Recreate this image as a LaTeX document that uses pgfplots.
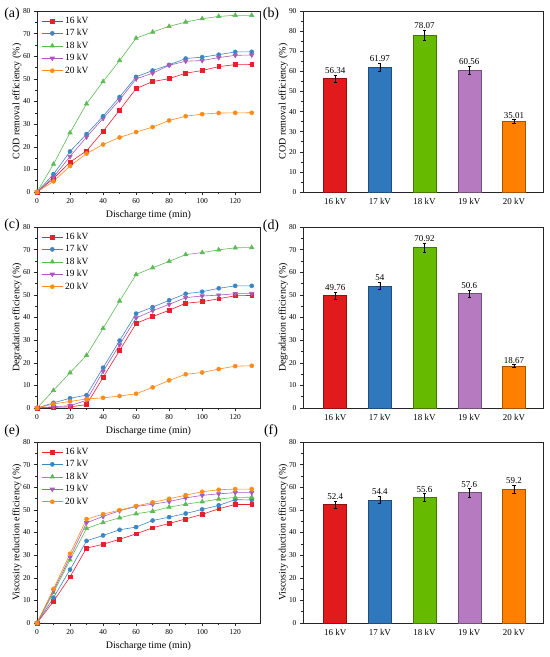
\documentclass[border=0pt]{standalone}
\usepackage{fontspec}
\setmainfont{Liberation Serif}
\usepackage{pgfplots}
\pgfplotsset{compat=1.18}
\usepackage{pgfplotstable}

\definecolor{lR}{HTML}{E8202E}
\definecolor{lB}{HTML}{3C86C4}
\definecolor{lG}{HTML}{5DBB55}
\definecolor{lP}{HTML}{A65CB8}
\definecolor{lO}{HTML}{FF8C1A}
\definecolor{bR}{HTML}{E31A1C}
\definecolor{bB}{HTML}{2F78BD}
\definecolor{bG}{HTML}{66BB00}
\definecolor{bP}{HTML}{B57ABF}
\definecolor{bO}{HTML}{FF7F00}

\pgfplotstableread{
t s16 s17 s18 s19 s20
0 0 0 0 0 0
10 5.9 7.9 12.3 6.6 4.7
20 13.2 17.9 26.2 15.7 11.5
30 18.2 25.6 39.0 24.3 17.0
40 26.8 33.5 48.8 32.5 21.0
50 36.2 42.0 58.1 40.7 24.1
60 45.7 50.9 68.0 50.0 26.5
70 48.8 53.7 70.7 52.5 28.7
80 50.1 56.2 73.2 56.0 31.6
90 52.5 59.0 75.1 57.8 33.5
100 53.7 59.6 76.6 58.1 34.4
110 55.4 60.7 77.6 59.4 34.9
120 56.3 61.9 78.1 60.4 35.0
130 56.34 61.97 78.07 60.56 35.01
}\codtab

\pgfplotstableread{
t s16 s17 s18 s19 s20
0 0 0 0 0 0
10 0.3 2.3 7.8 0.6 1.8
20 0.5 4.3 15.6 1.0 2.9
30 1.5 5.7 23.3 3.4 4.0
40 13.5 17.8 35.2 16.2 4.5
50 25.4 29.8 47.3 27.9 5.3
60 37.4 41.7 59.0 39.8 6.3
70 40.4 44.6 62.0 43.0 9.1
80 43.2 47.6 64.8 45.8 12.2
90 46.3 50.5 67.8 48.8 14.9
100 47.0 51.4 68.7 49.5 15.7
110 48.3 52.9 69.9 49.9 17.2
120 49.6 54.0 70.8 50.5 18.5
130 49.76 54.0 70.92 50.6 18.67
}\degtab

\pgfplotstableread{
t s16 s17 s18 s19 s20
0 0 0 0 0 0
10 9.6 11.2 13.4 14.3 15.1
20 20.4 23.6 27.9 29.1 30.6
30 33.1 36.3 41.8 44.3 45.9
40 34.8 38.7 44.4 47.1 48.1
50 37.0 41.2 46.5 49.6 49.9
60 39.4 42.4 48.3 51.5 51.7
70 42.1 45.3 49.4 52.5 53.3
80 44.0 46.8 51.2 53.7 54.9
90 46.0 48.4 52.5 55.3 56.5
100 48.0 50.2 53.6 56.4 58.0
110 50.5 52.0 54.8 57.1 58.9
120 52.4 54.5 55.5 57.6 59.2
130 52.4 54.4 55.6 57.6 59.2
}\vistab

\pgfplotsset{
  base/.style={
    scale only axis, anchor=south west,
    axis line style={line width=0.6bp, black!85},
    every tick/.style={black!85, line width=0.5bp},
    major tick length=3bp, minor tick length=1.6bp,
    tick align=outside, xtick pos=left, ytick pos=left,
    /pgf/number format/assume math mode=true,
    yticklabel style={font=\fontsize{7.5}{8}\selectfont},
    xticklabel style={font=\fontsize{7.5}{8}\selectfont},
    label style={font=\fontsize{9.5}{10}\selectfont},
    ymin=0, ymax=80, ytick distance=10, minor y tick num=1,
    height=181bp,
  },
  lineax/.style={base, width=223bp,
    xmin=0, xmax=135, xtick={0,20,...,120}, minor x tick num=1,
    xlabel={Discharge time (min)},
    every axis x label/.style={at={(axis description cs:0.5,-0.125)}, anchor=center},
    every axis y label/.style={at={(axis description cs:-0.09,0.5)}, rotate=90, anchor=center},
    legend style={at={(axis description cs:0.015,0.985)}, anchor=north west, draw=none, fill=none,
      font=\fontsize{9.5}{10}\selectfont, row sep=0.4bp, inner sep=1bp},
    legend cell align=left,
    legend image code/.code={\draw[mark repeat=2,mark phase=2] plot coordinates {(0bp,0bp)(10.5bp,0bp)(21bp,0bp)};},
  },
  barax/.style={base, width=240bp,
    ybar, bar width=23bp, bar shift=0pt,
    xmin=0.28, xmax=5.65, xtick={1,2,3,4,5},
    xticklabels={16 kV,17 kV,18 kV,19 kV,20 kV},
    xticklabel style={font=\fontsize{9}{10}\selectfont},
    x tick style={draw=none},
    every axis y label/.style={at={(axis description cs:-0.083,0.5)}, rotate=90, anchor=center},
  },
  s16/.style={color=lR, mark=square*, mark size=1.9bp, line width=0.6bp},
  s17/.style={color=lB, mark=*, mark size=2.0bp, line width=0.6bp},
  s18/.style={color=lG, mark=triangle*, mark size=2.5bp, line width=0.6bp},
  s19/.style={color=lP, mark=triangle*, mark size=2.5bp, mark options={rotate=180}, line width=0.6bp},
  s20/.style={color=lO, mark=*, mark size=2.0bp, line width=0.6bp},
  bs/.style={fill=#1, draw=#1!65!black, line width=0.4bp,
    error bars/.cd, y dir=both, y explicit,
    error bar style={black, line width=0.5bp}, error mark options={rotate=90, mark size=1.6bp, black, line width=0.5bp}},
  lbl/.style={sharp plot, draw=none, mark=none, nodes near coords, point meta=explicit symbolic,
    nodes near coords style={font=\fontsize{9}{10}\selectfont, anchor=south, inner sep=1bp, black}},
}

\begin{document}
\begin{tikzpicture}
\useasboundingbox (0,0) rectangle (550bp,-657bp);

% (a)
\begin{axis}[lineax, at={(37bp,-192bp)}, ylabel={COD removal efficiency (\%)}]
\addplot[s16] table[x=t,y=s16]{\codtab}; \addlegendentry{16 kV}
\addplot[s17] table[x=t,y=s17]{\codtab}; \addlegendentry{17 kV}
\addplot[s18] table[x=t,y=s18]{\codtab}; \addlegendentry{18 kV}
\addplot[s19] table[x=t,y=s19]{\codtab}; \addlegendentry{19 kV}
\addplot[s20] table[x=t,y=s20]{\codtab}; \addlegendentry{20 kV}
\end{axis}

% (b)
\begin{axis}[barax, at={(303bp,-192bp)}, ymax=90, ylabel={COD removal efficiency (\%)}]
\addplot[bs=bR] coordinates {(1,56.34) +- (0,1.7)};
\addplot[bs=bB] coordinates {(2,61.97) +- (0,2.0)};
\addplot[bs=bG] coordinates {(3,78.07) +- (0,2.5)};
\addplot[bs=bP] coordinates {(4,60.56) +- (0,2.0)};
\addplot[bs=bO] coordinates {(5,35.01) +- (0,1.0)};
\addplot[lbl] coordinates {(1,58.1)[56.34] (2,64.0)[61.97] (3,80.6)[78.07] (4,62.6)[60.56] (5,36.0)[35.01]};
\end{axis}

% (c)
\begin{axis}[lineax, at={(37bp,-408bp)}, ylabel={Degradation efficiency (\%)}]
\addplot[s16] table[x=t,y=s16]{\degtab}; \addlegendentry{16 kV}
\addplot[s17] table[x=t,y=s17]{\degtab}; \addlegendentry{17 kV}
\addplot[s18] table[x=t,y=s18]{\degtab}; \addlegendentry{18 kV}
\addplot[s19] table[x=t,y=s19]{\degtab}; \addlegendentry{19 kV}
\addplot[s20] table[x=t,y=s20]{\degtab}; \addlegendentry{20 kV}
\end{axis}

% (d)
\begin{axis}[barax, at={(303bp,-408bp)}, ylabel={Degradation efficiency (\%)}]
\addplot[bs=bR] coordinates {(1,49.76) +- (0,1.5)};
\addplot[bs=bB] coordinates {(2,54.0) +- (0,1.6)};
\addplot[bs=bG] coordinates {(3,70.92) +- (0,2.0)};
\addplot[bs=bP] coordinates {(4,50.6) +- (0,1.6)};
\addplot[bs=bO] coordinates {(5,18.67) +- (0,0.5)};
\addplot[lbl] coordinates {(1,51.3)[49.76] (2,55.6)[54] (3,72.9)[70.92] (4,52.2)[50.6] (5,19.2)[18.67]};
\end{axis}

% (e)
\begin{axis}[lineax, at={(37bp,-623bp)}, ylabel={Viscosity reduction efficiency (\%)}]
\addplot[s16] table[x=t,y=s16]{\vistab}; \addlegendentry{16 kV}
\addplot[s17] table[x=t,y=s17]{\vistab}; \addlegendentry{17 kV}
\addplot[s18] table[x=t,y=s18]{\vistab}; \addlegendentry{18 kV}
\addplot[s19] table[x=t,y=s19]{\vistab}; \addlegendentry{19 kV}
\addplot[s20] table[x=t,y=s20]{\vistab}; \addlegendentry{20 kV}
\end{axis}

% (f)
\begin{axis}[barax, at={(303bp,-623bp)}, ylabel={Viscosity reduction efficiency (\%)}]
\addplot[bs=bR] coordinates {(1,52.4) +- (0,1.5)};
\addplot[bs=bB] coordinates {(2,54.4) +- (0,1.6)};
\addplot[bs=bG] coordinates {(3,55.6) +- (0,1.6)};
\addplot[bs=bP] coordinates {(4,57.6) +- (0,1.8)};
\addplot[bs=bO] coordinates {(5,59.2) +- (0,1.7)};
\addplot[lbl] coordinates {(1,53.9)[52.4] (2,56.0)[54.4] (3,57.2)[55.6] (4,59.4)[57.6] (5,60.9)[59.2]};
\end{axis}

\begin{scope}[every node/.style={font=\fontsize{14}{16}\selectfont, inner sep=0pt}]
\node at (12bp,-14bp) {(a)};
\node at (271bp,-14bp) {(b)};
\node at (12bp,-225bp) {(c)};
\node at (271bp,-226bp) {(d)};
\node at (12bp,-431bp) {(e)};
\node at (271bp,-431bp) {(f)};
\end{scope}
\end{tikzpicture}
\end{document}
